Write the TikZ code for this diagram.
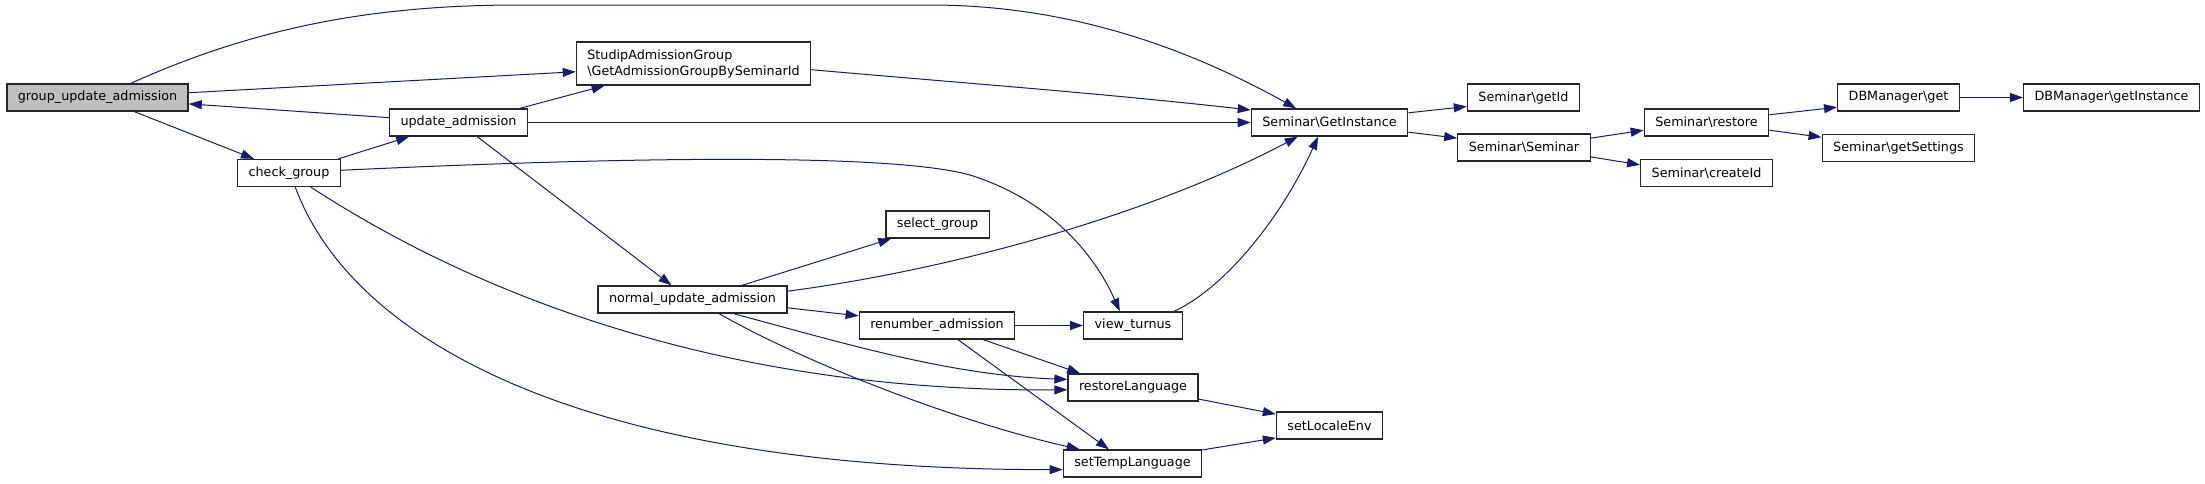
\documentclass[tikz,border=0pt]{standalone}
\usepackage{fontspec}
\setmainfont{DejaVu Sans}
\usetikzlibrary{arrows.meta}
\definecolor{callblue}{RGB}{25,25,112}
\begin{document}
\begin{tikzpicture}[x=1pt, y=-1pt,
    fn/.style={draw=black!85, line width=1.3pt, fill=white, minimum height=27pt, inner xsep=11pt, inner ysep=0pt, font=\fontsize{12.75}{16}\selectfont},
    cur/.style={fn, fill=black!25},
    call/.style={draw=callblue, line width=1pt, -{Triangle[length=13pt,width=9pt]}}]
    \useasboundingbox (0,0) rectangle (2205,483);
    \node[cur] (gua) at (97.5,97.5){group\_update\_admission};
    \node[fn] (ua) at (458.5,122.5){update\_admission};
    \node[fn] (cg) at (289,173){check\_group};
    \node[fn, align=left, minimum height=43pt] (sag) at (693.5,63.5){StudipAdmissionGroup\\\textbackslash GetAdmissionGroupBySeminarId};
    \node[fn] (nua) at (692.5,299.5){normal\_update\_admission};
    \node[fn] (sg) at (937.5,224.5){select\_group};
    \node[fn] (ra) at (937,325.5){renumber\_admission};
    \node[fn] (vt) at (1133,325.5){view\_turnus};
    \node[fn] (rl) at (1133,387.5){restoreLanguage};
    \node[fn] (stl) at (1132.5,463.5){setTempLanguage};
    \node[fn] (sle) at (1329.5,425.5){setLocaleEnv};
    \node[fn] (gi) at (1329.5,122.5){Seminar\textbackslash GetInstance};
    \node[fn] (gid) at (1523.5,97.5){Seminar\textbackslash getId};
    \node[fn] (ss) at (1524,147.5){Seminar\textbackslash Seminar};
    \node[fn] (sr) at (1706.5,122.5){Seminar\textbackslash restore};
    \node[fn] (sci) at (1706.5,173){Seminar\textbackslash createId};
    \node[fn] (dbg) at (1898.5,97.5){DBManager\textbackslash get};
    \node[fn] (gs) at (1898.5,148){Seminar\textbackslash getSettings};
    \node[fn] (dbi) at (2111.5,97.5){DBManager\textbackslash getInstance};
    \draw[call](gua.23.2) .. controls (260,25) and (380,5) .. (520,5) -- (930,5) .. controls (1080,5) and (1200,55) .. (gi.157.4);
    \draw[call](gua.3.4) -- (sag.-176.4);
    \draw[call](ua.176.3) -- (gua.-4.1);
    \draw[call](gua.-21.4) -- (cg.158.2);
    \draw[call](cg.16.9) -- (ua.-164.1);
    \draw[call](ua.13.9) -- (sag.-166.5);
    \draw[call](ua.east) -- (gi.west);
    \draw[call](sag.-3.65) .. controls (950,82) and (1100,93) .. (gi.171);
    \draw[call](ua.-37.6) -- (nua.146.6);
    \draw[call](cg.3.4) .. controls (560,160) and (880,150) .. (970,175) .. controls (1050,200) and (1095,255) .. (vt.133.9);
    \draw[call](cg.-33.7) .. controls (500,310) and (750,392) .. (rl.-178.7);
    \draw[call](cg.-66.8) .. controls (350,335) and (570,470) .. (stl.-175.5);
    \draw[call](nua.16.9) -- (sg.-163.1);
    \draw[call](nua.5.7) .. controls (950,270) and (1150,215) .. (gi.-156);
    \draw[call](nua.-5.7) -- (ra.173.9);
    \draw[call](nua.-19.8) .. controls (850,345) and (950,375) .. (rl.173.5);
    \draw[call](nua.-28.9) .. controls (800,360) and (950,420) .. (stl.165.6);
    \draw[call](ra.east) -- (vt.west);
    \draw[call](ra.-17.4) -- (rl.165.7);
    \draw[call](ra.-34) -- (stl.149);
    \draw[call](vt.19.6) .. controls (1230,285) and (1285,210) .. (gi.-129.4);
    \draw[call](rl.-10) -- (sle.168.9);
    \draw[call](stl.11) -- (sle.-167.9);
    \draw[call](gi.7.6) -- (gid.-171.4);
    \draw[call](gi.-7.6) -- (ss.172.8);
    \draw[call](ss.8.1) -- (sr.-173.3);
    \draw[call](ss.-8.1) -- (sci.173.9);
    \draw[call](sr.7.6) -- (dbg.-171.2);
    \draw[call](sr.-7.6) -- (gs.172.6);
    \draw[call](dbg.east) -- (dbi.west);
\end{tikzpicture}
\end{document}
